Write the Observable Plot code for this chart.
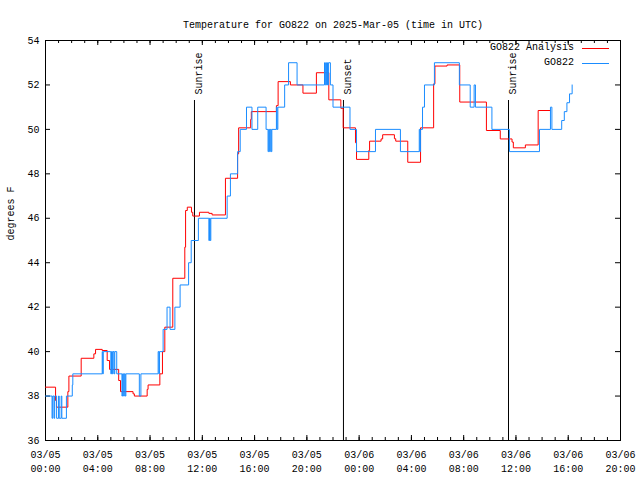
<!DOCTYPE html>
<html><head><meta charset="utf-8">
<script src="https://cdn.jsdelivr.net/npm/d3@7"></script>
<script src="https://cdn.jsdelivr.net/npm/@observablehq/plot@0.6"></script>
<style>
body{margin:0;background:#fff;}
#wrap{position:relative;width:640px;height:480px;font-family:"Liberation Mono","DejaVu Sans Mono",monospace;font-size:10px;}
.lg{position:absolute;right:66px;white-space:pre;color:#000;line-height:12px;}
.ln{position:absolute;left:582px;width:27px;height:0;border-top:1px solid;}
</style></head>
<body><div id="wrap"></div>
<script>
const titleText = "Temperature for GO822 on 2025-Mar-05 (time in UTC)";
const yLabel = "degrees F";
const seriesNames = ["GO822 Analysis", "GO822"];
const seriesColors = ["#ff0000", "#1a8cff"];

// hours since 2025-03-05 00:00 UTC
const analysisHours = [0,0.77,0.84,1.71,1.79,2.73,3.7,3.83,4.34,4.72,4.9,5.6,5.74,6.7,6.8,7.78,7.85,8.75,8.95,9.13,9.74,10.66,10.72,10.85,11.17,11.27,11.78,12.5,12.75,13.77,14.7,14.78,15.7,15.75,17.67,17.8,18.74,19.7,20.73,21.68,22.6,22.78,23.72,23.8,24.74,24.8,25.68,25.8,26.7,26.8,27.72,28.7,29.7,29.8,30.73,31.7,33.74,34.8,35.7,35.8,36.72,37.7,38.64];
const analysisTemps = [38.4,37.8,37.5,38.2,38.9,39.7,39.9,40.1,40.05,39.6,39.2,38.7,38.2,38.1,38.0,38.3,38.5,39.0,40.0,41.1,43.3,44.7,46.35,46.5,46.27,46.1,46.27,46.22,46.15,47.8,48.9,50.07,50.45,50.8,51.07,52.15,52.0,51.63,52.55,51.33,50.95,50.07,49.4,48.65,49.05,49.47,49.57,49.76,49.58,49.47,48.52,50.07,52.05,52.85,52.9,51.23,49.95,49.57,49.43,49.17,49.3,50.85,50.85];

const obsHours = [0,0.5,0.55,0.65,0.7,0.85,1.0,1.05,1.2,1.25,1.6,2.05,2.09,4.34,4.38,4.42,5.0,5.05,5.12,5.17,5.25,5.3,5.45,5.85,5.9,5.98,6.03,6.1,6.15,7.18,7.3,8.62,8.68,8.72,9.0,9.3,9.53,9.9,10.3,10.95,11.15,11.7,12.5,12.55,12.6,12.65,13.9,14.15,14.7,14.9,15.38,15.8,16.24,16.88,17.03,17.08,17.15,17.2,17.27,17.32,17.67,17.72,17.78,18.3,18.6,19.25,21.35,21.42,21.5,21.58,21.65,21.8,22.0,23.3,23.8,25.25,27.16,28.6,28.65,28.7,28.85,29.0,29.76,31.67,32.5,32.8,32.9,34.16,35.5,37.8,38.64,38.75,39.5,39.7,39.9,40.1,40.3];
const obsTemps = [38,37,38,37,38,37,38,37,38,37,38,38.5,39,40,39,40,39,40,39,40,39,40,39,38,39,38,39,38,39,38,39,40,39,40,41,42,41,42,43,44,45,46,45,46,45,46,47,48,49,50,51,50,51,50,49,50,49,50,49,50,51,50,51,52,53,52,53,52,53,52,53,52,51,50,49,50,49,50,49,50,51,52,53,52,51,52,51,50,49,50,51,50,50.4,50.8,51.2,51.6,52];

const eventHours = [11.4, 22.8, 35.43];
const eventLabels = ["Sunrise", "Sunset", "Sunrise"];

const xTickHours = [0,4,8,12,16,20,24,28,32,36,40,44];
const yTicks = [36,38,40,42,44,46,48,50,52,54];

const t0 = Date.UTC(2025, 2, 5);
const toDate = h => new Date(t0 + h * 3600e3);

const analysis = analysisHours.map((h, i) => ({date: toDate(h), temp: analysisTemps[i]}));
const obs = obsHours.map((h, i) => ({date: toDate(h), temp: obsTemps[i]}));
const events = eventHours.map((h, i) => ({date: toDate(h), label: eventLabels[i]}));
const majorTicks = xTickHours.map(toDate);
const minorTicks = d3.utcHour.range(toDate(0), toDate(44.01));
const fmt = d3.utcFormat("%m/%d\n%H:%M");

const W = 640, H = 480, ML = 45, MR = 20, MT = 40, MB = 40;
const PW = W - ML - MR, PH = H - MT - MB;
const major = 5, minor = 3;

const chart = Plot.plot({
  width: W, height: H,
  marginLeft: ML, marginRight: MR, marginTop: MT, marginBottom: MB,
  style: {fontFamily: "Liberation Mono, DejaVu Sans Mono, monospace", fontSize: "10px", background: "white", color: "black", overflow: "visible"},
  x: {type: "utc", domain: [toDate(0), toDate(44)]},
  y: {domain: [36, 54]},
  marks: [
    Plot.frame({stroke: "black"}),
    Plot.axisX(majorTicks, {anchor: "bottom", tickSize: 0, tickPadding: 8, tickFormat: fmt, lineHeight: 1.4, fill: "black", label: null}),
    Plot.axisY(yTicks, {anchor: "left", tickSize: 0, tickPadding: 6, fill: "black", label: null}),
    Plot.tickX(majorTicks, {x: d => d, insetTop: PH - major, stroke: "black"}),
    Plot.tickX(majorTicks, {x: d => d, insetBottom: PH - major, stroke: "black"}),
    Plot.tickX(minorTicks, {x: d => d, insetTop: PH - minor, stroke: "black"}),
    Plot.tickX(minorTicks, {x: d => d, insetBottom: PH - minor, stroke: "black"}),
    Plot.tickY(yTicks, {y: d => d, insetRight: PW - major, stroke: "black"}),
    Plot.tickY(yTicks, {y: d => d, insetLeft: PW - major, stroke: "black"}),
    Plot.ruleX(events, {x: "date", insetTop: 60, stroke: "black", strokeWidth: 1}),
    Plot.text(events, {x: "date", text: "label", frameAnchor: "top", dy: 54, rotate: -90, textAnchor: "start", fill: "black"}),
    Plot.line(analysis, {x: "date", y: "temp", curve: "step-after", stroke: seriesColors[0], strokeWidth: 1}),
    Plot.line(obs, {x: "date", y: "temp", curve: "step-after", stroke: seriesColors[1], strokeWidth: 1}),
    Plot.text([titleText], {frameAnchor: "top", dy: -20, fill: "black"}),
    Plot.text([yLabel], {frameAnchor: "left", dx: -35, rotate: -90, fill: "black"})
  ]
});

const wrap = document.getElementById("wrap");
wrap.appendChild(chart);
seriesNames.forEach((name, i) => {
  const t = document.createElement("div");
  t.className = "lg"; t.textContent = name; t.style.top = (42 + i * 15) + "px";
  wrap.appendChild(t);
  const l = document.createElement("div");
  l.className = "ln"; l.style.borderColor = seriesColors[i]; l.style.top = (48 + i * 15) + "px";
  wrap.appendChild(l);
});
</script></body></html>
